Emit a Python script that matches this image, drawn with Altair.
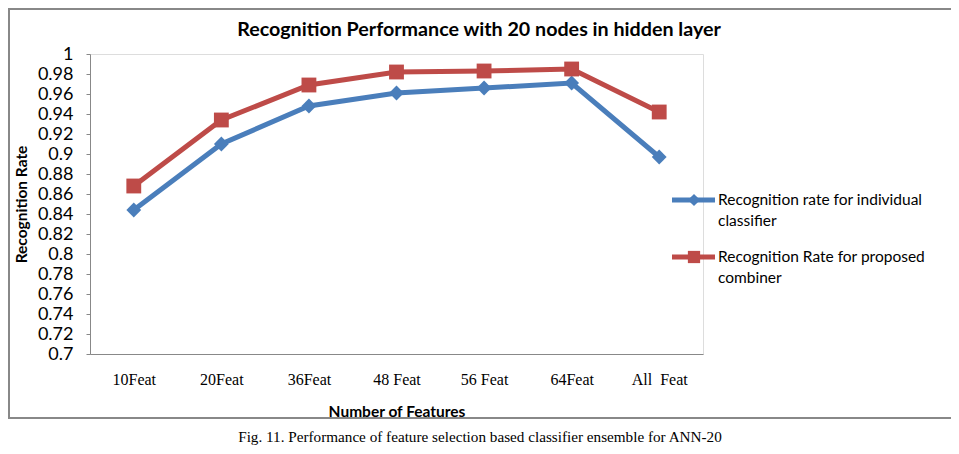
import altair as alt
import pandas as pd

categories = ["10Feat", "20Feat", "36Feat", "48 Feat", "56 Feat", "64Feat", "All \u00a0Feat"]
individual = [0.844, 0.910, 0.948, 0.961, 0.966, 0.971, 0.897]
combiner = [0.868, 0.934, 0.969, 0.982, 0.983, 0.985, 0.942]
series_names = ["Recognition rate for individual classifier", "Recognition Rate for proposed combiner"]
legend_text = ["Recognition rate for individual\nclassifier", "Recognition Rate for proposed\ncombiner"]
y_ticks = [round(0.70 + 0.02 * i, 2) for i in range(16)]
chart_title = "Recognition Performance with 20 nodes in hidden layer"
caption_text = "Fig. 11. Performance of feature selection based classifier ensemble for ANN-20"

BLUE = "#4A7EBB"
RED = "#BE4B48"
GRAY = "#888888"
FONT = "Lato"

rows = []
for c, a, b in zip(categories, individual, combiner):
    rows.append({"feat": c, "series": series_names[0], "rate": a})
    rows.append({"feat": c, "series": series_names[1], "rate": b})
df = pd.DataFrame(rows)

x_enc = alt.X("feat:N", sort=categories, title="Number of Features",
              scale=alt.Scale(domain=categories),
              axis=alt.Axis(labelAngle=0, labelFont="Liberation Serif", labelFontSize=16,
                            labelColor="#000", ticks=False, tickSize=0, labelPadding=17,
                            domainColor=GRAY, titleFont=FONT, titleFontSize=15.5,
                            titleFontWeight="bold", titleColor="#000", titleY=57,
                            titleBaseline="middle"))
y_enc = alt.Y("rate:Q", title="Recognition Rate",
              scale=alt.Scale(domain=[0.7, 1.0], nice=False, zero=False),
              axis=alt.Axis(values=y_ticks, format=".2~f", grid=False, labelFont=FONT,
                            labelFontSize=18, labelColor="#000", tickSize=4, tickColor=GRAY,
                            domainColor=GRAY, labelPadding=13, labelOverlap=False,
                            labelFlush=False, labelBound=False, titleFont=FONT,
                            titleFontSize=15.5, titleFontWeight="bold", titleColor="#000",
                            titleX=-69, titleY=150, titleAngle=270, titleBaseline="middle"))

color_scale = alt.Scale(domain=series_names, range=[BLUE, RED])
shape_scale = alt.Scale(domain=series_names, range=["diamond", "square"])

border = alt.Chart(pd.DataFrame({"k": [0]})).mark_rect(
    fill=None, stroke=GRAY, strokeWidth=2
).encode(x=alt.value(-81), x2=alt.value(863), y=alt.value(-45), y2=alt.value(364))

lines = alt.Chart(df).mark_line(strokeWidth=5).encode(
    x=x_enc, y=y_enc,
    color=alt.Color("series:N", scale=color_scale, legend=None),
    detail="series:N",
)
points = alt.Chart(df).mark_point(filled=True, size=220, opacity=1).encode(
    x=x_enc, y=y_enc,
    color=alt.Color("series:N", scale=color_scale, legend=None),
    shape=alt.Shape("series:N", scale=shape_scale, legend=None),
)

legend_layers = []
for i, (name, txt) in enumerate(zip(series_names, legend_text)):
    ly = 146 + 57 * i
    col = [BLUE, RED][i]
    ld = pd.DataFrame({"series": [name], "label": [txt]})
    legend_layers.append(alt.Chart(ld).mark_rule(color=col, strokeWidth=5).encode(
        x=alt.value(582), x2=alt.value(625), y=alt.value(ly)))
    legend_layers.append(alt.Chart(ld).mark_point(filled=True, opacity=1, size=150, color=col,
                                                  shape=["diamond", "square"][i]).encode(
        x=alt.value(604), y=alt.value(ly)))
    legend_layers.append(alt.Chart(ld).mark_text(align="left", baseline="middle", font=FONT,
                                                 fontSize=15.5, lineHeight=21, lineBreak="\n",
                                                 color="#000").encode(
        x=alt.value(628), y=alt.value(ly), text="label:N"))

title_mark = alt.Chart(pd.DataFrame({"t": [chart_title]})).mark_text(
    font=FONT, fontSize=19.7, fontWeight="bold", color="#000", align="center", baseline="middle"
).encode(x=alt.value(389), y=alt.value(-24), text="t:N")

caption = alt.Chart(pd.DataFrame({"t": [caption_text]})).mark_text(
    font="Liberation Serif", fontSize=15.2, color="#000", align="center", baseline="middle"
).encode(x=alt.value(390), y=alt.value(383), text="t:N")

chart = alt.layer(border, lines, points, *legend_layers, title_mark, caption).properties(
    width=613, height=300,
    padding={"left": 82, "top": 46, "right": 248, "bottom": 92},
    autosize=alt.AutoSizeParams(type="none"),
).configure_view(stroke=None).configure(background="white").configure_axisY(
    labelOverlap=False, labelFlush=False
)

chart.save("out.html", embed_options={"renderer": "svg", "actions": False})
